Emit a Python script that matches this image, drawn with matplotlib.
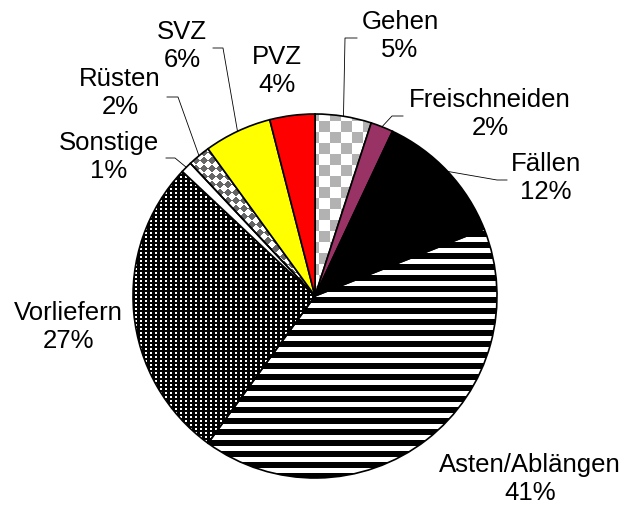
import numpy as np
import matplotlib
matplotlib.use('Agg')
import matplotlib.pyplot as plt
from matplotlib.colors import to_rgb

# ── Data ─────────────────────────────────────────────────────────────────────
labels = ['Gehen', 'Freischneiden', 'Fällen', 'Asten/Ablängen', 'Vorliefern',
          'Sonstige', 'Rüsten', 'SVZ', 'PVZ']
shares = [5, 2, 12, 41, 27, 1, 2, 6, 4]
fills  = ['checker', '#993366', 'black', 'stripes', 'dots',
          'white', 'diag', '#ffff00', '#ff0000']

# ── Layout (pixel units, y measured from top) ────────────────────────────────
W, H = 626, 508
CX, CY, R = 315, H - 296, 182
LABEL_POS = [(400, 36), (490, 114), (546, 178), (530, 479), (68, 327),
             (109, 157), (120, 93), (182, 46), (277, 71)]
LEADER = [((357, 38), (345, 38)), ((403, 116), (392, 116)),
          ((507, 180), (497, 180)), None, None,
          ((166, 158), (175, 158)), ((167, 97), (178, 97)),
          ((213, 48), (223, 48)), None]

plt.rcParams['font.family'] = ['Liberation Sans', 'DejaVu Sans']

# ── Fill patterns on the pixel grid ──────────────────────────────────────────
yy, xx = np.mgrid[0:H, 0:W]


def two_tone(mask, c_on, c_off):
    img = np.empty((H, W, 3))
    img[:] = to_rgb(c_off)
    img[mask] = to_rgb(c_on)
    return img


PATTERNS = {
    'checker': two_tone((xx // 11 + yy // 11) % 2 == 0, '#b2b2b2', 'white'),
    'diag':    two_tone(((xx + yy) // 8 + (xx - yy) // 8) % 2 == 0, '#666666', 'white'),
    'dots':    two_tone((xx % 5 < 2) & (yy % 4 < 2), 'white', 'black'),
    'stripes': two_tone(yy % 11 < 6, 'black', 'white'),
}

# ── Plot ─────────────────────────────────────────────────────────────────────
fig = plt.figure(figsize=(W / 100, H / 100), dpi=100)
fig.patch.set_facecolor('white')
ax = fig.add_axes([0, 0, 1, 1])

colors = ['none' if f in PATTERNS else f for f in fills]
wedges, _ = ax.pie(shares, startangle=90, counterclock=False,
                   center=(CX, CY), radius=R, colors=colors,
                   wedgeprops=dict(edgecolor='black', linewidth=1.2))

for w, f in zip(wedges, fills):
    if f in PATTERNS:
        im = ax.imshow(PATTERNS[f], extent=(0, W, 0, H), origin='upper',
                       interpolation='nearest', zorder=0.5)
        im.set_clip_path(w)

# ── Labels and leader lines ──────────────────────────────────────────────────
for w, name, pct, pos, lead in zip(wedges, labels, shares, LABEL_POS, LEADER):
    ax.text(pos[0], H - pos[1], f'{name}\n{pct}%', ha='center', va='center',
            fontsize=18.5, color='black', linespacing=1.2)
    if lead is not None:
        mid = np.deg2rad((w.theta1 + w.theta2) / 2)
        px = CX + R * np.cos(mid)
        py = CY + R * np.sin(mid)
        ax.plot([lead[0][0], lead[1][0], px],
                [H - lead[0][1], H - lead[1][1], py],
                color='black', linewidth=0.6, zorder=3)

ax.set_xlim(0, W)
ax.set_ylim(0, H)
ax.set_aspect('equal')
ax.axis('off')

plt.savefig('out.png', dpi=100)
